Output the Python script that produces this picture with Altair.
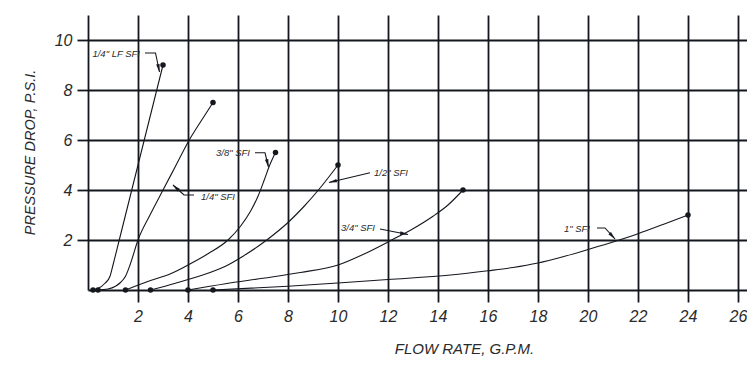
import math
import altair as alt
import pandas as pd

# ---------------- data ----------------
curve_names = ['1/4" LF SFI', '1/4" SFI', '3/8" SFI', '1/2" SFI', '3/4" SFI', '1" SFI']

lf14_x = [0.2, 0.4, 0.68, 0.88, 1.0, 1.25, 1.5, 1.75, 2.0, 2.25, 2.5, 2.75, 3.0]
lf14_y = [0.0, 0.06, 0.27, 0.55, 1.0, 2.0, 3.0, 4.0, 5.0, 6.0, 7.0, 8.0, 9.0]

sfi14_x = [0.4, 0.8, 1.1, 1.3, 1.5, 1.68, 2.0, 2.48, 3.0, 3.5, 4.05, 4.55, 5.0]
sfi14_y = [0.0, 0.04, 0.15, 0.3, 0.55, 1.0, 2.0, 3.0, 4.0, 4.95, 6.0, 6.8, 7.5]

sfi38_x = [1.5, 2.5, 3.3, 4.0, 4.8, 5.6, 6.1, 6.5, 6.8, 7.05, 7.25, 7.5]
sfi38_y = [0.0, 0.38, 0.65, 1.0, 1.45, 2.0, 2.55, 3.15, 3.75, 4.4, 4.95, 5.5]

sfi12_x = [2.5, 3.5, 4.5, 5.5, 6.2, 7.15, 8.0, 8.6, 9.3, 10.0]
sfi12_y = [0.0, 0.27, 0.57, 0.95, 1.35, 2.0, 2.7, 3.3, 4.1, 5.0]

sfi34_x = [4.0, 5.5, 7.0, 8.5, 10.0, 11.0, 12.15, 13.0, 13.8, 14.4, 15.0]
sfi34_y = [0.0, 0.25, 0.47, 0.7, 1.0, 1.42, 2.0, 2.45, 2.95, 3.4, 4.0]

sfi1_x = [5.0, 8.0, 10.0, 12.0, 14.5, 16.0, 17.0, 18.0, 19.0, 20.0, 21.0, 22.0, 23.0, 24.0]
sfi1_y = [0.0, 0.15, 0.28, 0.42, 0.6, 0.77, 0.9, 1.08, 1.33, 1.62, 1.92, 2.25, 2.62, 3.0]

curve_xs = [lf14_x, sfi14_x, sfi38_x, sfi12_x, sfi34_x, sfi1_x]
curve_ys = [lf14_y, sfi14_y, sfi38_y, sfi12_y, sfi34_y, sfi1_y]

# curve labels and their leader lines
label_x = [2.16, 4.44, 6.56, 11.36, 11.56, 20.16]
label_y = [9.44, 3.72, 5.49, 4.69, 2.48, 2.44]
label_align = ["right", "left", "right", "left", "right", "right"]
leader_x = [[2.28, 2.7, 2.86], [4.24, 3.84, 3.4], [6.68, 7.08, 7.22],
            [11.28, 9.64], [11.68, 12.8], [20.36, 20.68, 21.08]]
leader_y = [[9.48, 9.48, 8.72], [3.8, 3.8, 4.2], [5.49, 5.49, 4.92],
            [4.69, 4.3], [2.44, 2.22], [2.48, 2.48, 2.04]]

x_ticks = list(range(0, 27))
y_ticks = list(range(0, 11))

# ---------------- tables ----------------
rows = []
for name, xs_, ys_ in zip(curve_names, curve_xs, curve_ys):
    for i, (x, y) in enumerate(zip(xs_, ys_)):
        rows.append({"curve": name, "x": x, "y": y, "i": i})
curves = pd.DataFrame(rows)

dot_rows = []
for name, xs_, ys_ in zip(curve_names, curve_xs, curve_ys):
    dot_rows.append({"curve": name, "x": xs_[0], "y": ys_[0]})
    dot_rows.append({"curve": name, "x": xs_[-1], "y": ys_[-1]})
dots = pd.DataFrame(dot_rows)

labels = pd.DataFrame({"text": curve_names, "x": label_x, "y": label_y, "align": label_align})

lead_rows = []
arrow_rows = []
for name, lx, ly in zip(curve_names, leader_x, leader_y):
    for i, (x, y) in enumerate(zip(lx, ly)):
        lead_rows.append({"curve": name, "x": x, "y": y, "i": i})
    dx = lx[-1] - lx[-2]
    dy = ly[-1] - ly[-2]
    ang = math.degrees(math.atan2(dx, dy)) % 360
    L = math.hypot(dx, dy)
    back = 0.15
    arrow_rows.append({"curve": name, "x": lx[-1] - dx / L * back,
                       "y": ly[-1] - dy / L * back, "ang": ang})
leaders = pd.DataFrame(lead_rows)
arrows = pd.DataFrame(arrow_rows)

# ---------------- styling ----------------
INK = "#15171f"
TXT = "#2a2a2a"
FONT = "Liberation Sans, Arial, sans-serif"

XMAX = 26.36
YMAX = 11.0

xs = alt.Scale(domain=[0, XMAX], nice=False, zero=False)
ys = alt.Scale(domain=[0, YMAX], nice=False, zero=False)

x_axis = alt.Axis(
    values=x_ticks, grid=True, gridColor=INK, gridWidth=1.8, gridOpacity=1,
    domain=False, tickColor=INK, tickWidth=1.8,
    tickSize={"condition": {"test": "datum.value % 2 === 0", "value": 12}, "value": 7},
    tickOpacity={"condition": {"test": "datum.value === 0", "value": 0}, "value": 1},
    labelExpr="datum.value > 0 && datum.value % 2 === 0 ? datum.label : ''",
    labelFont=FONT, labelFontSize=16, labelFontStyle="italic", labelColor=TXT,
    labelPadding=6, labelFlush=False, labelOverlap=False, labelBound=False,
    title="FLOW RATE,  G.P.M.", titleFont=FONT, titleFontSize=15,
    titleFontStyle="italic", titleFontWeight="normal", titleColor=TXT,
    titleX=376, titleY=58, titleAlign="center", titleBaseline="middle",
)
y_axis = alt.Axis(
    values=y_ticks, grid=True, gridColor=INK, gridWidth=1.8, gridOpacity=1,
    domain=False, tickColor=INK, tickWidth=1.8,
    tickSize={"condition": {"test": "datum.value % 2 === 0", "value": 11}, "value": 7},
    tickOpacity={"condition": {"test": "datum.value === 0", "value": 0}, "value": 1},
    labelExpr="datum.value > 0 && datum.value % 2 === 0 ? datum.label : ''",
    labelFont=FONT, labelFontSize=16, labelFontStyle="italic", labelColor=TXT,
    labelPadding=5, labelFlush=False, labelOverlap=False, labelBound=False,
    title="PRESSURE DROP,  P.S.I.", titleFont=FONT, titleFontSize=14.5,
    titleFontStyle="italic", titleFontWeight="normal", titleColor=TXT,
    titleX=-58, titleY=137, titleAngle=270, titleAlign="center", titleBaseline="middle",
)

base_x = alt.X("x:Q", scale=xs, axis=x_axis)
base_y = alt.Y("y:Q", scale=ys, axis=y_axis)

lines = alt.Chart(curves).mark_line(
    interpolate="monotone", color=INK, strokeWidth=1.1
).encode(x=base_x, y=base_y, detail="curve:N", order="i:Q")

dot_layer = alt.Chart(dots).mark_circle(color=INK, size=30, opacity=1).encode(
    x=alt.X("x:Q", scale=xs), y=alt.Y("y:Q", scale=ys))

leader_layer = alt.Chart(leaders).mark_line(color=INK, strokeWidth=1.1).encode(
    x=alt.X("x:Q", scale=xs), y=alt.Y("y:Q", scale=ys), detail="curve:N", order="i:Q")

arrow_layer = alt.Chart(arrows).mark_point(
    shape="M0,-1L0.42,1L-0.42,1Z", filled=True, color=INK, size=70, opacity=1,
    strokeWidth=0
).encode(x=alt.X("x:Q", scale=xs), y=alt.Y("y:Q", scale=ys),
         angle=alt.Angle("ang:Q", scale=None))

text_right = alt.Chart(labels).transform_filter("datum.align === 'right'").mark_text(
    align="right", baseline="middle", font=FONT, fontSize=9.5, fontStyle="italic",
    color=TXT, dx=-2
).encode(x=alt.X("x:Q", scale=xs), y=alt.Y("y:Q", scale=ys), text="text:N")

text_left = alt.Chart(labels).transform_filter("datum.align === 'left'").mark_text(
    align="left", baseline="middle", font=FONT, fontSize=9.5, fontStyle="italic",
    color=TXT, dx=2
).encode(x=alt.X("x:Q", scale=xs), y=alt.Y("y:Q", scale=ys), text="text:N")

chart = alt.layer(lines, leader_layer, arrow_layer, dot_layer, text_right, text_left).properties(
    width=659, height=275,
    autosize=alt.AutoSizeParams(type="none"),
    padding={"left": 80, "top": 7, "right": 0, "bottom": 66},
    background="white",
).configure_view(stroke=None)

chart.save("out.html", embed_options={"renderer": "svg", "actions": False})
